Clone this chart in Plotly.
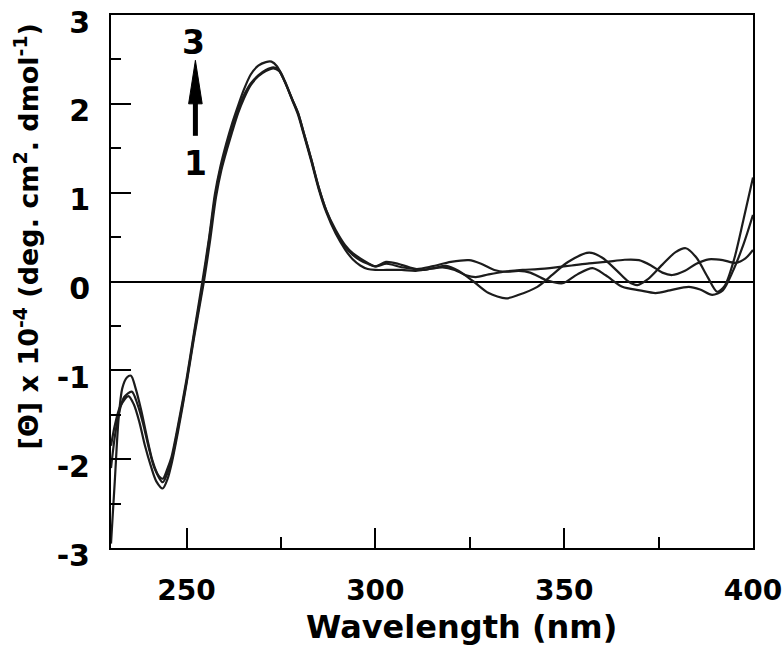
import plotly.graph_objects as go

# ---- data ----
wl_c1 = [230, 231, 232.5, 234.6, 236, 237.5, 239, 240.5, 242, 243.7,
         245, 246, 247.7, 250, 252, 254.6, 256.2, 257.8, 259.2, 260.8,
         262.2, 263.7, 265.2, 267, 269, 271, 273, 274.5, 276, 278,
         279.5, 281, 283, 285, 287, 289.5, 292, 294, 296, 298,
         300, 303, 307, 310.7, 314, 317.8, 321, 324, 326.6, 330,
         334, 339, 343, 347.8, 352, 356.6, 361, 366, 369.8, 373,
         376, 378.6, 382, 385, 388.3, 392, 395.4, 398, 400]
cd_c1 = [-1.85, -1.62, -1.4, -1.29, -1.38, -1.58, -1.85, -2.07, -2.25, -2.33,
         -2.22, -2.06, -1.7, -1.15, -0.63, 0.0, 0.45, 0.95, 1.25, 1.5,
         1.7, 1.9, 2.06, 2.21, 2.31, 2.37, 2.40, 2.37, 2.25, 2.04,
         1.88, 1.66, 1.36, 1.04, 0.78, 0.54, 0.36, 0.25, 0.18, 0.14,
         0.13, 0.13, 0.13, 0.12, 0.14, 0.16, 0.13, 0.07, 0.05, 0.08,
         0.11, 0.13, 0.14, 0.16, 0.18, 0.205, 0.22, 0.245, 0.24, 0.18,
         0.1, 0.073, 0.12, 0.2, 0.25, 0.24, 0.21, 0.26, 0.355]

wl_c2 = [230, 231, 232, 233.5, 235.5, 237, 238.5, 240, 241.5, 243.7,
         245, 246, 247.7, 250, 252, 254.4, 256, 257.7, 259, 260.7,
         262, 263.6, 265, 267, 269, 271, 273, 274.5, 276, 278,
         279.5, 281, 283, 285, 287, 289.5, 292, 294, 296, 298,
         300, 303, 307, 311, 315, 320, 324.8, 328, 331.5, 334.6,
         338, 341, 345, 349.6, 353.5, 357.5, 361, 365.4, 370, 374.2,
         378, 383, 386, 389.2, 392, 394.5, 397.5, 400]
cd_c2 = [-2.1, -1.75, -1.5, -1.3, -1.24, -1.38, -1.6, -1.87, -2.1, -2.26,
         -2.15, -2.02, -1.66, -1.13, -0.6, 0.0, 0.47, 0.98, 1.27, 1.52,
         1.72, 1.93, 2.08, 2.23, 2.32, 2.38, 2.41, 2.38, 2.26, 2.05,
         1.9, 1.68, 1.38, 1.06, 0.8, 0.56, 0.39, 0.3, 0.24, 0.2,
         0.17, 0.2, 0.16, 0.14, 0.17, 0.22, 0.24, 0.2, 0.13, 0.11,
         0.12, 0.1, 0.02, -0.02, 0.08, 0.15, 0.07, -0.06, -0.1, -0.13,
         -0.1, -0.06, -0.09, -0.15, -0.1, 0.1, 0.42, 0.75]

wl_c3 = [230, 231, 232, 233, 234.2, 235.3, 236.5, 238, 239.5, 241,
         242.5, 243.7, 245, 246, 247.7, 250, 252, 254.2, 256, 257.5,
         259, 260.5, 262, 263.5, 265, 267, 269, 271, 272.5, 274,
         276, 278, 279.5, 281, 283, 285, 287, 289.5, 292, 294,
         296, 298, 300, 302.8, 306, 309, 312.5, 315.5, 318.7, 322,
         326, 330, 334.6, 338, 342.9, 347, 351, 356.6, 360, 364,
         367, 369.4, 372, 376, 379.5, 382.2, 385, 388, 390.5, 392.5,
         395, 397.5, 400]
cd_c3 = [-2.95, -2.25, -1.55, -1.2, -1.08, -1.06, -1.2, -1.45, -1.75, -2.02,
         -2.18, -2.22, -2.1, -1.98, -1.63, -1.1, -0.57, 0.0, 0.5, 0.98,
         1.3, 1.55, 1.77, 1.96, 2.14, 2.33, 2.43, 2.47, 2.475, 2.42,
         2.25, 2.05, 1.9, 1.68, 1.38, 1.06, 0.8, 0.58, 0.41, 0.32,
         0.26, 0.21, 0.17, 0.22, 0.2, 0.16, 0.13, 0.15, 0.175, 0.12,
         0.0, -0.13, -0.19, -0.15, -0.06, 0.08, 0.22, 0.325, 0.27, 0.12,
         0.0, -0.04, 0.02, 0.19, 0.33, 0.374, 0.27, 0.05, -0.115, -0.05,
         0.25, 0.7, 1.17]

x_tick_vals = [250, 300, 350, 400]
x_tick_text = ["250", "300", "350", "400"]
x_minor_vals = [275, 325, 375]
y_tick_vals = [-3, -2, -1, 0, 1, 2, 3]
y_tick_text = ["-3", "-2", "-1", "0", "1", "2", "3"]
y_minor_vals = [-2.5, -1.5, -0.5, 0.5, 1.5, 2.5]

x_title = "Wavelength (nm)"
y_title = "[Θ] x 10<sup>-4</sup> (deg. cm<sup>2</sup>. dmol<sup>-1</sup>)"
series_labels = ["1", "3"]

FONT = "DejaVu Sans"

fig = go.Figure()
for wl, cd in [(wl_c1, cd_c1), (wl_c2, cd_c2), (wl_c3, cd_c3)]:
    fig.add_trace(go.Scatter(x=wl, y=cd, mode="lines",
                             line=dict(color="#1c1c1c", width=2.2, shape="spline", smoothing=0.8),
                             showlegend=False, hoverinfo="skip"))

axis_common = dict(showline=True, linecolor="black", linewidth=2, mirror=True,
                   ticks="inside", tickcolor="black", tickwidth=2, ticklen=20,
                   showgrid=False, ticklabeloverflow="allow", automargin=False)

fig.update_xaxes(range=[230, 400], tickmode="array", tickvals=x_tick_vals, ticktext=x_tick_text,
                 zeroline=False, ticklabelstandoff=16,
                 tickfont=dict(family=FONT, size=28, color="black", weight="bold"),
                 minor=dict(ticks="inside", ticklen=11, tickwidth=2, tickcolor="black",
                            tickmode="array", tickvals=x_minor_vals),
                 **axis_common)
fig.update_yaxes(range=[-3, 3], tickmode="array", tickvals=y_tick_vals, ticktext=y_tick_text,
                 zeroline=True, zerolinecolor="black", zerolinewidth=2,
                 ticklabelstandoff=13, ticklabelshift=7,
                 tickfont=dict(family=FONT, size=30, color="black", weight="bold"),
                 minor=dict(ticks="inside", ticklen=10, tickwidth=2, tickcolor="black",
                            tickmode="array", tickvals=y_minor_vals),
                 **axis_common)

# arrow 1 -> 3
arrow_x = 252.35
fig.add_shape(type="line", x0=arrow_x, x1=arrow_x, y0=1.64, y1=2.05,
              line=dict(color="black", width=5))
fig.add_shape(type="path",
              path=f"M {arrow_x-1.8} 2.0 L {arrow_x+1.8} 2.0 L {arrow_x} 2.49 Z",
              fillcolor="black", line=dict(color="black", width=1))
fig.add_annotation(x=arrow_x - 0.5, y=2.69, text=series_labels[1], showarrow=False,
                   font=dict(family=FONT, size=33, color="black", weight="bold"),
                   xanchor="center", yanchor="middle")
fig.add_annotation(x=arrow_x, y=1.33, text=series_labels[0], showarrow=False,
                   font=dict(family=FONT, size=33, color="black", weight="bold"),
                   xanchor="center", yanchor="middle")

# axis titles
fig.add_annotation(xref="paper", yref="paper", x=0.546, y=-0.148, text=x_title,
                   showarrow=False, xanchor="center", yanchor="middle",
                   font=dict(family=FONT, size=32, color="black", weight="bold"))
fig.add_annotation(xref="paper", yref="paper", x=-0.132, y=0.585, text=y_title,
                   textangle=-90, showarrow=False, xanchor="center", yanchor="middle",
                   font=dict(family=FONT, size=27, color="black", weight="bold"))

fig.update_layout(width=782, height=665,
                  margin=dict(l=111, r=29, t=15, b=117),
                  paper_bgcolor="white", plot_bgcolor="white")

# remove the default 8 px page margin so the figure fills the window exactly
fig.write_html("out.html",
               config={"displayModeBar": False},
               post_script="document.body.style.margin='0';document.body.style.overflow='hidden';")
